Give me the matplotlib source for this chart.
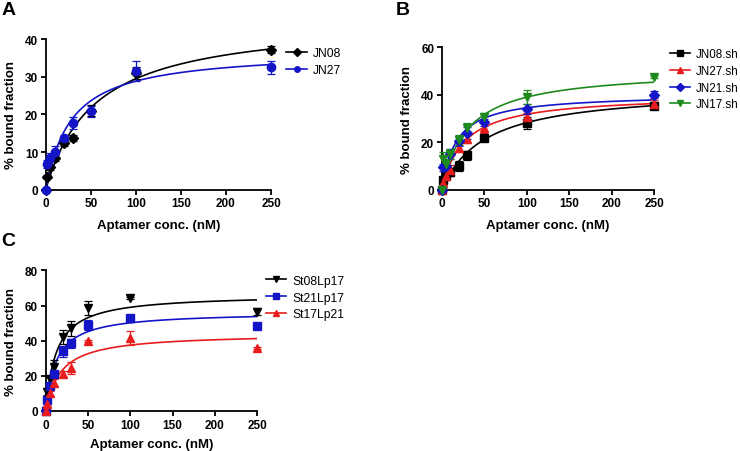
import numpy as np
import matplotlib.pyplot as plt

plt.rcParams['font.family'] = ['Liberation Sans', 'DejaVu Sans']

conc = [0, 1, 5, 10, 20, 30, 50, 100, 250]

# panel A
a_jn08 = [0, 3.5, 6, 8.3, 12.3, 13.7, 21, 31, 37.2]
a_jn08_err = [0, 0.5, 0.8, 0.8, 0.8, 0.8, 1.5, 1.5, 1.0]
a_jn27 = [0, 6.8, 8.3, 10, 13.8, 17.7, 20.8, 31.5, 32.5]
a_jn27_err = [0, 1.0, 1.5, 1.5, 0.8, 1.5, 1.5, 2.7, 1.7]
a_fit = {"JN08": (45.5, 54.4), "JN27": (37.0, 28.4)}

# panel B
b_jn08 = [0, 4, 6, 7.5, 10, 14.5, 22, 28.3, 35.5]
b_jn08_err = [0, 1, 1, 1.5, 2, 2, 1.5, 2.5, 1.5]
b_jn27 = [0, 3, 6, 8.5, 17.7, 21.5, 26, 30.5, 36]
b_jn27_err = [0, 1, 1.5, 2, 2, 2, 2, 2, 2]
b_jn21 = [0, 9.5, 10, 15, 20.5, 24, 28.5, 34, 40]
b_jn21_err = [0, 1.5, 1.5, 2, 2, 2.5, 1.5, 2, 1.5]
b_jn17 = [0, 13, 11, 15, 21, 26, 30.5, 39, 47.5]
b_jn17_err = [0, 3, 2, 2, 2, 2, 2, 3, 0.5]
b_fit = {"JN08.sh": (42.7, 51.0), "JN27.sh": (40.1, 26.1),
         "JN21.sh": (40.4, 17.0), "JN17.sh": (50.8, 30.2)}

# panel C
c_st08 = [0, 11, 18, 25, 42, 47, 58.5, 64.5, 56.5]
c_st08_err = [0, 2, 2, 4, 4, 4.5, 4, 0.5, 2]
c_st21 = [0, 6, 14.5, 21, 34, 38.5, 49, 53, 48.5]
c_st21_err = [0, 1.5, 1.5, 2, 3, 2.5, 3, 0.5, 0.5]
c_st17 = [0, 4, 10, 16, 21, 24.5, 40, 41.5, 36]
c_st17_err = [0, 1, 1.5, 2, 1.5, 3.5, 0.5, 4, 0.5]
c_fit = {"St08Lp17": (66.4, 12.5), "St21Lp17": (56.4, 12.4),
         "St17Lp21": (44.1, 17.6)}

xs = np.linspace(0, 250, 400)

def one_site(bmax, kd):
    return bmax * xs / (kd + xs)

def style(ax, ymax, ystep, xpad=7):
    ax.set_xlim(0, 250)
    ax.set_ylim(0, ymax)
    ax.set_xticks([0, 50, 100, 150, 200, 250])
    ax.set_yticks(np.arange(0, ymax + 1, ystep))
    for s in ["top", "right"]:
        ax.spines[s].set_visible(False)
    for s in ["left", "bottom"]:
        ax.spines[s].set_linewidth(1.3)
    ax.tick_params(direction="out", length=3.5, width=1.3, labelsize=8.5, pad=2)
    for lab in ax.get_xticklabels() + ax.get_yticklabels():
        lab.set_fontweight("bold")
    ax.set_xlabel("Aptamer conc. (nM)", fontsize=9.5, fontweight="bold", labelpad=xpad)
    ax.set_ylabel("% bound fraction", fontsize=9.5, fontweight="bold", labelpad=6)

def series(ax, y, err, fit, color, marker, ms, label):
    ax.errorbar(conc, y, yerr=err, fmt="none", ecolor=color, elinewidth=0.9,
                capsize=3, capthick=0.9, clip_on=False, zorder=3)
    ax.plot(conc, y, linestyle="none", marker=marker, color=color, ms=ms,
            clip_on=False, zorder=4)
    ax.plot(xs, one_site(*fit), color=color, lw=1.2, zorder=2)
    ax.plot([], [], color=color, marker=marker, ms=4, lw=1.2, label=label)

def add_legend(ax, anchor, size=8.7):
    ax.legend(loc="upper left", bbox_to_anchor=anchor, frameon=False,
              fontsize=size, handlelength=1.7, handletextpad=0.5,
              labelspacing=0.4, borderpad=0.2)

fig = plt.figure(figsize=(7.4, 4.52), dpi=100)

axA = fig.add_axes([0.0618, 0.578, 0.3045, 0.3335])
series(axA, a_jn08, a_jn08_err, a_fit["JN08"], "black", "D", 5, "JN08")
series(axA, a_jn27, a_jn27_err, a_fit["JN27"], "#1515c8", "o", 6, "JN27")
style(axA, 40, 10)
add_legend(axA, (1.03, 1.0))
fig.text(0.002, 0.995, "A", fontsize=14, fontweight="bold", va="top")

axB = fig.add_axes([0.597, 0.578, 0.287, 0.315])
series(axB, b_jn08, b_jn08_err, b_fit["JN08.sh"], "black", "s", 5.5, "JN08.sh")
series(axB, b_jn27, b_jn27_err, b_fit["JN27.sh"], "#e81c1c", "^", 5.5, "JN27.sh")
series(axB, b_jn21, b_jn21_err, b_fit["JN21.sh"], "#1515c8", "D", 5, "JN21.sh")
series(axB, b_jn17, b_jn17_err, b_fit["JN17.sh"], "#1e8a1e", "v", 5.5, "JN17.sh")
style(axB, 60, 20)
add_legend(axB, (1.035, 1.05), size=8.4)
fig.text(0.535, 0.995, "B", fontsize=14, fontweight="bold", va="top")

axC = fig.add_axes([0.0618, 0.0885, 0.2856, 0.311])
series(axC, c_st08, c_st08_err, c_fit["St08Lp17"], "black", "v", 6, "St08Lp17")
series(axC, c_st21, c_st21_err, c_fit["St21Lp17"], "#1515c8", "s", 6, "St21Lp17")
series(axC, c_st17, c_st17_err, c_fit["St17Lp21"], "#e81c1c", "^", 5.5, "St17Lp21")
style(axC, 80, 20, xpad=5)
add_legend(axC, (1.0, 1.03))
fig.text(0.002, 0.485, "C", fontsize=14, fontweight="bold", va="top")

fig.savefig("out.png", dpi=100)
